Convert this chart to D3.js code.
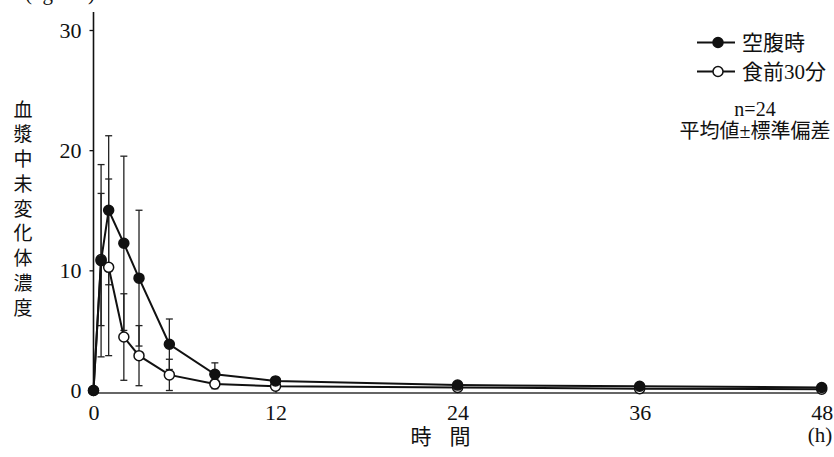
<!DOCTYPE html>
<html>
<head>
<meta charset="utf-8">
<script src="https://cdn.jsdelivr.net/npm/d3@7"></script>
<style>
  body { margin: 0; background: #fff; }
  svg { display: block; }
  text { font-family: "Liberation Serif", "Noto Sans CJK JP", serif; fill: #111; }
</style>
</head>
<body>
<svg id="chart"></svg>
<script>
// sampling times (h)
const times = [0, 0.5, 1, 2, 3, 5, 8, 12, 24, 36, 48];
// 空腹時 (fasting) mean and SD
const fasting = [0, 10.8, 15.0, 12.25, 9.35, 3.85, 1.35, 0.8, 0.45, 0.35, 0.25];
const fastingSD = [0, 8.0, 6.2, 7.25, 5.65, 2.1, 0.95, 0.3, 0.2, 0.1, 0.1];
// 食前30分 (30 min before meal) mean and SD
const beforeMeal = [0, 10.9, 10.25, 4.45, 2.9, 1.3, 0.55, 0.35, 0.25, 0.15, 0.1];
const beforeMealSD = [0, 5.5, 7.35, 3.6, 2.5, 1.3, 0.4, 0.2, 0.1, 0.1, 0.05];

const xTicks = [0, 12, 24, 36, 48];
const yTicks = [0, 10, 20, 30];
const yLabelChars = ["血", "漿", "中", "未", "変", "化", "体", "濃", "度"];
const xLabelChars = ["時", "間"];
const legendLabels = ["空腹時", "食前30分"];

const width = 834, height = 457;
const svg = d3.select("#chart").attr("width", width).attr("height", height);

const x = d3.scaleLinear().domain([0, 48]).range([93.5, 821.7]);
const y = d3.scaleLinear().domain([0, 30]).range([390.5, 30]);
const axisY = 393;

// axes
const yAxis = svg.append("g")
  .attr("transform", `translate(${x(0)},0)`)
  .call(d3.axisLeft(y).tickValues(yTicks).tickSize(4).tickPadding(8));
yAxis.select(".domain").remove();
yAxis.selectAll("line").attr("stroke", "#111").attr("stroke-width", 1.3);
yAxis.selectAll("text").attr("font-size", 22).attr("font-family", "Liberation Serif");

const xAxis = svg.append("g")
  .attr("transform", `translate(0,${axisY})`)
  .call(d3.axisBottom(x).tickValues(xTicks).tickSize(-4).tickPadding(11));
xAxis.select(".domain").remove();
xAxis.selectAll("line").attr("stroke", "#111").attr("stroke-width", 1.3);
xAxis.selectAll("text").attr("font-size", 22).attr("font-family", "Liberation Serif");

svg.append("line")
  .attr("x1", x(0)).attr("x2", x(0)).attr("y1", axisY).attr("y2", 12)
  .attr("stroke", "#111").attr("stroke-width", 1.6);
svg.append("line")
  .attr("x1", x(0)).attr("x2", x(48)).attr("y1", axisY).attr("y2", axisY)
  .attr("stroke", "#333").attr("stroke-width", 1.6);

// axis titles (unit label is cut at the top edge like the original)
svg.append("text").attr("x", 60).attr("y", 0).attr("text-anchor", "middle")
  .attr("font-size", 21).text("(ng/mL)");
svg.append("g").selectAll("text").data(yLabelChars).join("text")
  .attr("x", 23).attr("y", (d, i) => 110 + i * 24.75)
  .attr("dy", "0.35em").attr("text-anchor", "middle")
  .attr("font-size", 19).text(d => d);
svg.append("g").selectAll("text").data(xLabelChars).join("text")
  .attr("x", (d, i) => 421 + i * 39).attr("y", 437).attr("dy", "0.35em")
  .attr("text-anchor", "middle").attr("font-size", 21).text(d => d);
svg.append("text").attr("x", 820).attr("y", 435).attr("dy", "0.35em")
  .attr("text-anchor", "middle").attr("font-size", 21).text("(h)");

// error bars
function errorBars(means, sds) {
  const g = svg.append("g").attr("stroke", "#222").attr("stroke-width", 1.3);
  times.forEach((t, i) => {
    if (!sds[i]) return;
    const lo = y(Math.max(0, means[i] - sds[i])), hi = y(means[i] + sds[i]);
    g.append("line").attr("x1", x(t)).attr("x2", x(t)).attr("y1", lo).attr("y2", hi);
    g.append("line").attr("x1", x(t) - 3.5).attr("x2", x(t) + 3.5).attr("y1", hi).attr("y2", hi);
    g.append("line").attr("x1", x(t) - 3.5).attr("x2", x(t) + 3.5).attr("y1", lo).attr("y2", lo);
  });
}
errorBars(fasting, fastingSD);
errorBars(beforeMeal, beforeMealSD);

const line = d3.line().x(d => x(d[0])).y(d => y(d[1]));

function series(means, filled) {
  const pts = times.map((t, i) => [t, means[i]]);
  svg.append("path").datum(pts).attr("d", line)
    .attr("fill", "none").attr("stroke", "#111").attr("stroke-width", 2);
  svg.append("g").selectAll("circle").data(pts).join("circle")
    .attr("cx", d => x(d[0])).attr("cy", d => y(d[1]))
    .attr("r", 5)
    .attr("fill", filled ? "#111" : "#fff")
    .attr("stroke", "#111").attr("stroke-width", 1.5);
}
series(beforeMeal, false);
series(fasting, true);

// legend
const legend = svg.append("g");
legendLabels.forEach((lab, i) => {
  const ly = 42.5 + i * 29;
  legend.append("line").attr("x1", 697).attr("x2", 735).attr("y1", ly).attr("y2", ly)
    .attr("stroke", "#111").attr("stroke-width", 2);
  legend.append("circle").attr("cx", 718).attr("cy", ly).attr("r", 5)
    .attr("fill", i === 0 ? "#111" : "#fff").attr("stroke", "#111").attr("stroke-width", 1.5);
  legend.append("text").attr("x", 742).attr("y", ly).attr("dy", "0.35em")
    .attr("font-size", 21).text(lab);
});
legend.append("text").attr("x", 755).attr("y", 109).attr("dy", "0.35em")
  .attr("text-anchor", "middle").attr("font-size", 20).text("n=24");
legend.append("text").attr("x", 755).attr("y", 131).attr("dy", "0.35em")
  .attr("text-anchor", "middle").attr("font-size", 20).text("平均値±標準偏差");
</script>
</body>
</html>
